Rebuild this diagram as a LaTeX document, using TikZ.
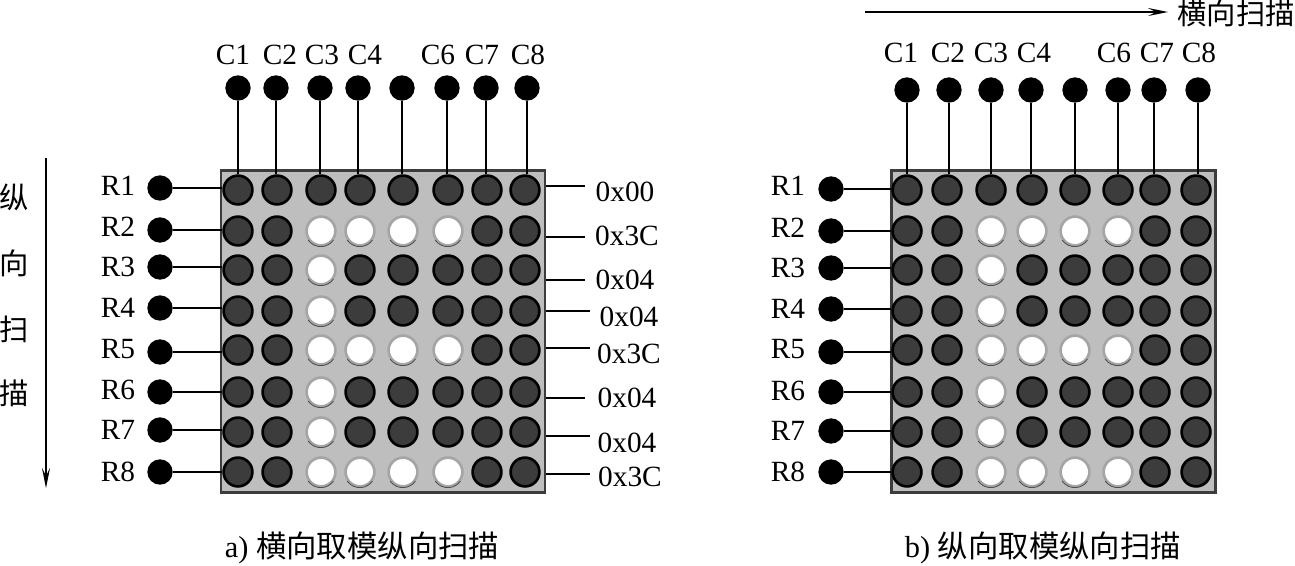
\documentclass[tikz,border=0pt]{standalone}
\usepackage{fontspec}
\usepackage{xcolor}
\usepackage{tikz}
\usetikzlibrary{arrows.meta, positioning, calc}
\setmainfont{Liberation Serif}
\newfontfamily\cjk{Noto Sans CJK SC}
\definecolor{panelgray}{RGB}{190,190,190}
\definecolor{paneledge}{RGB}{60,60,60}
\definecolor{leddark}{RGB}{60,60,60}
\definecolor{ledrim}{RGB}{165,165,165}

\begin{document}
\begin{tikzpicture}[
    x=0.75pt, y=-0.75pt,
    >={Stealth[length=15pt, width=6pt, inset=6pt]},
    panelbox/.style={draw=paneledge, fill=panelgray, line width=2.2pt, minimum width=243pt, minimum height=241pt, inner sep=0pt},
    ledoff/.style={circle, draw=black, fill=leddark, line width=2pt, minimum size=21.6pt, inner sep=0pt},
    ledon/.style={circle, draw=ledrim, fill=white, line width=2pt, minimum size=21.6pt, inner sep=0pt},
    ledarc/.style={line width=0.6pt, black!70},
    pin/.style={circle, fill=black, minimum size=19pt, inner sep=0pt},
    txt/.style={font=\fontsize{22}{24}\selectfont, inner sep=0pt},
    captxt/.style={font=\fontsize{22.8}{24}\selectfont, inner sep=0pt},
    cjktxt/.style={font=\fontsize{22}{24}\selectfont\cjk, inner sep=0pt},
    wire/.style={line width=0.9pt},
]
    \useasboundingbox (0,0) rectangle (1295,565);

    % left panel
    \node[panelbox] (pnlA) at (383,331.5) {};
    \foreach \xc [count=\c] in {238,277,321,360,403,448,487,525}{
        \foreach \yr [count=\r] in {190,231,270,311,350,392,432,472}{
            \pgfmathtruncatemacro\islit{(\c==3 && \r>1) || (\c>=3 && \c<=6 && (\r==2 || \r==5 || \r==8))}
            \ifnum\islit=1
                \node[ledon] (a-\r-\c) at (\xc,\yr) {};
                \draw[ledarc] (a-\r-\c.215) arc[start angle=215, end angle=325, radius=11.6pt];
            \else
                \node[ledoff] (a-\r-\c) at (\xc,\yr) {};
            \fi
        }
    }
    \foreach \xp/\lw [count=\c] in {238/1.4,276/0.8,320/1.4,358/0.8,402/0.8,447/1.4,486/0.8,527/0.8}{
        \node[pin] (ca\c) at (\xp,88) {};
        \draw[line width=\lw pt] (ca\c) -- (ca\c |- a-1-\c.north);
    }
    \foreach \xl/\lab in {233/C1,280/C2,322/C3,365/C4,438/C6,482/C7,528/C8}{
        \node[txt] (ta\lab) at (\xl,55) {\lab};
    }
    \foreach \yp/\yl [count=\r] in {188/186,230/227,267/267,308/308,352/349,392/390,430/430,472/472}{
        \node[pin] (ra\r) at (160,\yp) {};
        \node[txt] (tra\r) at (118,\yl) {R\r};
        \draw[wire] (ra\r) -- (ra\r -| a-\r-1.west);
    }
    % data column
    \foreach \xv/\yv/\xe/\ye/\val [count=\r] in {625/192/585/186/0x00,627/236/585/237/0x3C,625/280/585/280/0x04,629/317/590/311/0x04,629/354/590/348/0x3C,627/398/585/398/0x04,627/443/590/436/0x04,630/477/590/474/0x3C}{
        \node[txt] (va\r) at (\xv,\yv) {\val};
        \coordinate (ea\r) at (\xe,\ye);
        \draw[wire] (ea\r) -- (ea\r -| pnlA.east);
    }
    % vertical scan arrow
    \coordinate (scanAtop) at (46,158);
    \coordinate (scanAend) at (46,488);
    \draw[->, line width=1pt] (scanAtop) -- (scanAend);
    \foreach \yc/\ch [count=\i] in {197/纵,263/向,329/扫,393/描}{
        \node[cjktxt] (vert\i) at (14,\yc) {\ch};
    }
    \node[captxt] (capA) at (362,548) {a) {\cjk 横向取模纵向扫描}};

    % right panel
    \node[panelbox] (pnlB) at (1053.5,331.5) {};
    \foreach \xc [count=\c] in {907,947,991,1032,1075,1118,1155,1196}{
        \foreach \yr [count=\r] in {190,231,270,311,350,392,432,472}{
            \pgfmathtruncatemacro\islit{(\c==3 && \r>1) || (\c>=3 && \c<=6 && (\r==2 || \r==5 || \r==8))}
            \ifnum\islit=1
                \node[ledon] (b-\r-\c) at (\xc,\yr) {};
                \draw[ledarc] (b-\r-\c.215) arc[start angle=215, end angle=325, radius=11.6pt];
            \else
                \node[ledoff] (b-\r-\c) at (\xc,\yr) {};
            \fi
        }
    }
    \foreach \xp/\lw [count=\c] in {907/0.8,949/0.8,991/1.4,1031/0.8,1075/1.4,1118/0.8,1154/1.4,1198/0.8}{
        \node[pin] (cb\c) at (\xp,90) {};
        \draw[line width=\lw pt] (cb\c) -- (cb\c |- b-1-\c.north);
    }
    \foreach \xl/\lab in {901/C1,948/C2,991/C3,1034/C4,1114/C6,1157/C7,1199/C8}{
        \node[txt] (tb\lab) at (\xl,53) {\lab};
    }
    \foreach \yp/\yl [count=\r] in {189/186,231/228,268/268,309/309,352/349,392/391,431/431,472/472}{
        \node[pin] (rb\r) at (831,\yp) {};
        \node[txt] (trb\r) at (788,\yl) {R\r};
        \draw[wire] (rb\r) -- (rb\r -| b-\r-1.west);
    }
    % horizontal scan arrow
    \node[cjktxt] (scanBlab) at (1236,13) {横向扫描};
    \coordinate (scanBstart) at (865,12);
    \coordinate (scanBend) at (1168,12);
    \draw[->, line width=1pt] (scanBstart) -- (scanBend);
    \node[captxt] (capB) at (1043,548) {b) {\cjk 纵向取模纵向扫描}};
\end{tikzpicture}
\end{document}
